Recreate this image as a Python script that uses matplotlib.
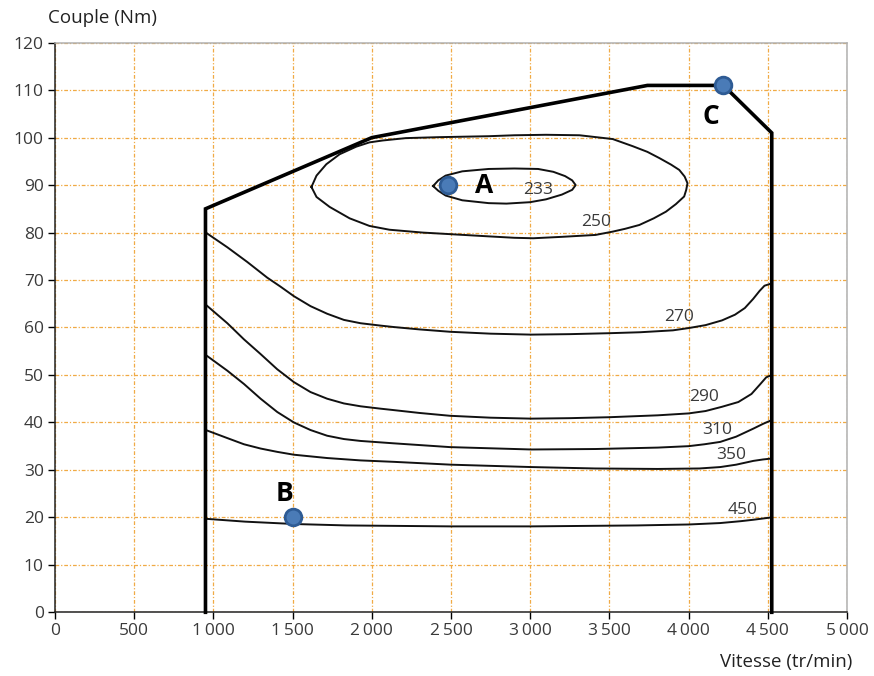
"""Carte de consommation spécifique moteur : couple vs vitesse, iso-courbes g/kWh."""
import matplotlib
matplotlib.use("Agg")
import matplotlib.pyplot as plt

plt.rcParams["font.family"] = ["Open Sans", "DejaVu Sans"]

# enveloppe couple max (tr/min, Nm)
env_x = [950, 950, 2000, 3740, 4220, 4525, 4525]
env_y = [0, 85, 100, 111, 111, 101, 0]

# iso-consommation (g/kWh)
c233_x = [2387, 2420, 2466, 2571, 2738, 2900, 3050, 3146, 3220, 3265, 3287,
          3265, 3200, 3100, 2999, 2850, 2738, 2571, 2466, 2420, 2387]
c233_y = [89.8, 91.0, 92.0, 92.9, 93.4, 93.5, 93.4, 92.8, 91.9, 91.0, 90.0,
          89.0, 88.0, 87.0, 86.4, 86.1, 86.2, 86.8, 87.8, 88.8, 89.8]

c250_x = [1619, 1651, 1713, 1797, 1902, 1985, 2069, 2215, 2425, 2738, 2900, 3100, 3311, 3521, 3647,
          3740, 3815, 3890, 3941, 3975, 3993, 3985, 3972, 3920, 3857, 3780, 3689, 3600, 3521, 3412,
          3200, 3019, 2900, 2738, 2529, 2320, 2111, 1985, 1860, 1734, 1651, 1619]
c250_y = [89.6, 92.0, 94.4, 96.5, 98.1, 99.0, 99.4, 99.9, 100.1, 100.3, 100.5, 100.6, 100.5, 99.7, 98.2,
          97.0, 95.7, 94.3, 93.2, 91.8, 90.4, 89.0, 87.6, 86.0, 84.4, 83.0, 81.6, 80.8, 80.2, 79.5,
          79.1, 78.8, 78.9, 79.2, 79.6, 80.0, 80.6, 81.4, 83.0, 85.4, 87.5, 89.6]

c270_x = [952, 1088, 1214, 1340, 1424, 1508, 1613, 1718, 1824, 1929, 2055, 2138, 2300, 2494, 2750,
          3006, 3250, 3500, 3694, 3901, 4004, 4107, 4211, 4293, 4355, 4407, 4448, 4479, 4525]
c270_y = [80.0, 76.9, 73.8, 70.5, 68.6, 66.6, 64.5, 62.9, 61.6, 60.9, 60.4, 60.1, 59.6, 59.1, 58.7,
          58.5, 58.6, 58.8, 59.0, 59.4, 59.9, 60.5, 61.5, 62.7, 64.1, 66.0, 67.7, 68.8, 69.3]

c290_x = [952, 1088, 1193, 1298, 1403, 1508, 1613, 1718, 1824, 1929, 2055, 2138, 2300, 2494, 2750,
          3006, 3250, 3500, 3806, 4000, 4107, 4211, 4314, 4397, 4448, 4490, 4525]
c290_y = [64.8, 60.9, 57.5, 54.4, 51.2, 48.5, 46.4, 45.0, 44.0, 43.4, 42.9, 42.6, 42.0, 41.4, 41.0,
          40.8, 40.9, 41.1, 41.5, 41.9, 42.4, 43.3, 44.3, 46.0, 47.9, 49.5, 50.0]

c310_x = [952, 1088, 1193, 1298, 1403, 1508, 1613, 1718, 1824, 1929, 2138, 2494, 3006, 3412, 3806,
          4000, 4100, 4200, 4300, 4409, 4470, 4525]
c310_y = [54.2, 50.9, 48.1, 45.0, 42.2, 40.0, 38.4, 37.2, 36.5, 36.1, 35.6, 34.8, 34.3, 34.4, 34.7,
          35.0, 35.4, 35.9, 37.0, 38.7, 39.7, 40.5]

c350_x = [952, 1088, 1193, 1298, 1403, 1508, 1718, 1929, 2138, 2500, 3006, 3412, 3806, 4068, 4200,
          4300, 4409, 4470, 4525]
c350_y = [38.4, 36.7, 35.4, 34.5, 33.8, 33.2, 32.5, 32.0, 31.7, 31.1, 30.6, 30.3, 30.2, 30.3, 30.6,
          31.1, 31.9, 32.2, 32.4]

c450_x = [952, 1200, 1511, 1839, 2500, 3006, 3674, 4000, 4199, 4330, 4409, 4525]
c450_y = [19.7, 19.1, 18.6, 18.3, 18.1, 18.1, 18.3, 18.5, 18.8, 19.2, 19.5, 20.0]

curves = [(c233_x, c233_y), (c250_x, c250_y), (c270_x, c270_y), (c290_x, c290_y),
          (c310_x, c310_y), (c350_x, c350_y), (c450_x, c450_y)]

lbl_txt = ["233", "250", "270", "290", "310", "350", "450"]
lbl_x = [3049, 3415, 3939, 4097, 4179, 4268, 4343]
lbl_y = [88.9, 82.2, 62.2, 45.4, 38.4, 33.2, 21.6]

# points de fonctionnement
pt_name = ["A", "B", "C"]
pt_x = [2480, 1500, 4220]
pt_y = [90, 20, 111]
pt_lx = [2710, 1450, 4140]
pt_ly = [90, 25, 104.5]

xticks = list(range(0, 5001, 500))
xtick_lbl = ["0", "500", "1\u2009000", "1\u2009500", "2\u2009000", "2\u2009500", "3\u2009000",
             "3\u2009500", "4\u2009000", "4\u2009500", "5\u2009000"]
yticks = list(range(0, 121, 10))

W, H = 874, 676
fig = plt.figure(figsize=(W / 100, H / 100), dpi=100)
ax = fig.add_axes([55 / W, 1 - 612.3 / H, 792 / W, 569.6 / H])
ax.set_xlim(0, 5000); ax.set_ylim(0, 120)

ax.set_xticks(xticks); ax.set_xticklabels(xtick_lbl)
ax.set_yticks(yticks)
ax.tick_params(direction="out", length=5, width=1, colors="black", labelcolor="#3a3a3a",
               labelsize=12.5, pad=3)
ax.grid(True, color="#f0aa45", ls=(0, (3, 1.5, 1, 1.5)), lw=0.9)
ax.set_axisbelow(True)
for s in ("left", "bottom"):
    ax.spines[s].set_color("#222222"); ax.spines[s].set_linewidth(1.1)
for s in ("top", "right"):
    ax.spines[s].set_color("#b0b0b0"); ax.spines[s].set_linewidth(1.1)

for cx, cy in curves:
    ax.plot(cx, cy, color="#111111", lw=1.4, solid_joinstyle="round", zorder=3)
ax.plot(env_x, env_y, color="black", lw=2.6, solid_joinstyle="miter", zorder=4, clip_on=False)

for t, x, y in zip(lbl_txt, lbl_x, lbl_y):
    ax.text(x, y, t, fontsize=12.5, color="#3a3a3a", ha="center", va="center", zorder=5)

ax.plot(pt_x, pt_y, "o", ms=12, mfc="#4a7bb7", mec="#2e5b94", mew=2, zorder=6, clip_on=False)
for n, x, y in zip(pt_name, pt_lx, pt_ly):
    ax.text(x, y, n, fontsize=19, fontweight="bold", color="black", ha="center", va="center", zorder=7)

fig.text(48 / W, 1 - 18 / H, "Couple (Nm)", fontsize=13.5, color="#222222", ha="left", va="center")
fig.text(852 / W, 1 - 662 / H, "Vitesse (tr/min)", fontsize=13.5, color="#222222", ha="right", va="center")

fig.savefig("out.png", dpi=100)
